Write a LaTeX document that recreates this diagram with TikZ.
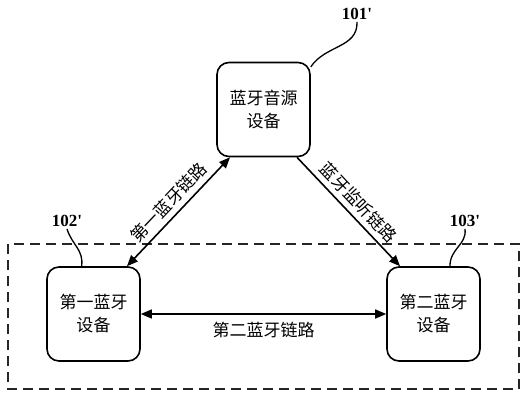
\documentclass[tikz,border=0pt]{standalone}
\usepackage{fontspec}
\setmainfont{Liberation Serif}
\newfontfamily\cjk{Noto Sans CJK SC}
\usetikzlibrary{shapes,arrows,arrows.meta,positioning,calc}

\begin{document}
\begin{tikzpicture}[
    x=1pt, y=-1pt,
    box/.style={rectangle, rounded corners=12pt, draw=black, line width=1.6pt, minimum width=93pt, minimum height=94pt, align=center, font=\cjk\fontsize{17}{23}\selectfont},
    arrow/.style={line width=1.6pt, >={Triangle[length=11pt,width=9pt]}},
    link/.style={font=\cjk\fontsize{17}{20}\selectfont, inner sep=1pt},
    tag/.style={font=\bfseries\fontsize{17}{20}\selectfont, inner sep=2pt},
    lead/.style={line width=1.3pt},
    group/.style={draw=black!85, line width=1.4pt, dash pattern=on 10pt off 6pt}
]
    \useasboundingbox (0,0) rectangle (527,400);

    % Group of devices
    \draw[group] (8,244) rectangle (519,389);

    % Source
    \node[box] (src) at (263.5,109.5) {蓝牙音源\\设备};

    % Devices
    \node[box] (dev1) at (93.5,314) {第一蓝牙\\设备};
    \node[box] (dev2) at (433.5,314) {第二蓝牙\\设备};

    % Reference numbers
    \node[tag] (t101) at (357,14) {101\textquotesingle};
    \node[tag] (t102) at (67,221) {102\textquotesingle};
    \node[tag] (t103) at (465,221) {103\textquotesingle};

    \draw[lead] (src.42) .. controls (325,45) and (358,48) .. (t101.south);
    \draw[lead] (t102.south) .. controls (72,245) and (84,250) .. (dev1.104);
    \draw[lead] (t103.south) .. controls (467,245) and (450,248) .. (dev2.71);

    % Links
    \draw[arrow, <->] (dev1.55) -- node[link, sloped, above=4pt] {第一蓝牙链路} (src.235);
    \draw[arrow, ->] (src.305) -- node[link, sloped, above=4pt] {蓝牙监听链路} (dev2.125);
    \draw[arrow, <->] (dev1.east) -- node[link, below=6pt] {第二蓝牙链路} (dev2.west);

\end{tikzpicture}
\end{document}
